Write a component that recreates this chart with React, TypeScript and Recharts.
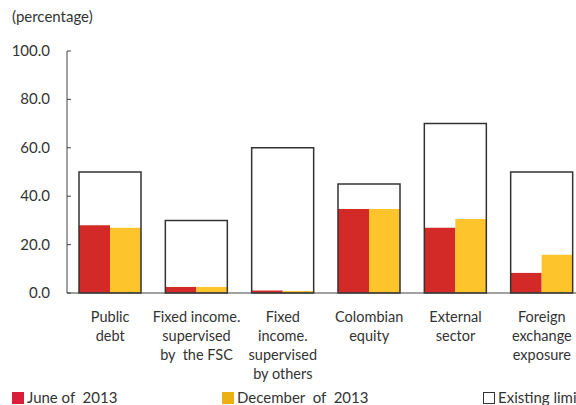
import { ComposedChart, Bar, XAxis, YAxis } from "recharts";

const categories = [
  "Public\ndebt",
  "Fixed income.\nsupervised\nby  the FSC",
  "Fixed\nincome.\nsupervised\nby others",
  "Colombian\nequity",
  "External\nsector",
  "Foreign\nexchange\nexposure",
];
const june2013 = [28.0, 2.5, 1.0, 34.7, 27.0, 8.3];
const december2013 = [27.0, 2.5, 0.8, 34.7, 30.6, 15.8];
const existingLimit = [50, 30, 60, 45, 70, 50];
const yTicks = [0, 20, 40, 60, 80, 100];

const data = categories.map((name, i) => ({
  name,
  june: june2013[i],
  december: december2013[i],
  limit: existingLimit[i],
}));

const FONT = "Lato, 'Open Sans', sans-serif";
const TEXT = "#333";

const YTick = ({ x, y, payload }: any) => (
  <g>
    <line x1={x} x2={x + 4} y1={y} y2={y} stroke="#444" />
    <text x={x - 17} y={y} dy={5} textAnchor="end" fontSize={15} fill={TEXT} fontFamily={FONT}>
      {Number(payload.value).toFixed(1)}
    </text>
  </g>
);

const XTick = ({ x, y, payload }: any) => {
  const lines = String(payload.value).split("\n");
  return (
    <text x={x} y={y + 29} textAnchor="middle" fontSize={14.5} fill={TEXT} fontFamily={FONT} style={{ whiteSpace: "pre" }}>
      {lines.map((l, i) => (
        <tspan key={i} x={x} dy={i === 0 ? 0 : 19}>
          {l}
        </tspan>
      ))}
    </text>
  );
};

const Swatch = ({ color, border }: { color: string; border?: string }) => (
  <span
    style={{
      display: "inline-block",
      width: 12,
      height: 12,
      background: color,
      border: border ? `1px solid ${border}` : "none",
      boxSizing: "border-box",
      marginRight: 3,
      verticalAlign: "-1px",
    }}
  />
);

export default function App() {
  return (
    <div
      style={{
        position: "fixed",
        left: 0,
        top: 0,
        width: 576,
        height: 405,
        overflow: "hidden",
        background: "#fff",
        fontFamily: FONT,
        color: TEXT,
      }}
    >
      <div style={{ position: "absolute", left: 12, top: 7, fontSize: 15 }}>(percentage)</div>
      <ComposedChart
        width={600}
        height={405}
        data={data}
        margin={{ top: 51, right: 15, bottom: 0, left: 0 }}
        barGap={0}
      >
        <XAxis
          xAxisId="main"
          dataKey="name"
          interval={0}
          tickLine={false}
          tickSize={0}
          tickMargin={0}
          axisLine={{ stroke: "#444" }}
          tick={<XTick />}
          height={112}
        />
        <XAxis xAxisId="limit" dataKey="name" orientation="top" height={0} hide />
        <YAxis
          domain={[0, 100]}
          ticks={yTicks}
          width={67}
          tickLine={false}
          tickSize={0}
          tickMargin={0}
          axisLine={{ stroke: "#444" }}
          tick={<YTick />}
        />
        <Bar xAxisId="main" dataKey="june" fill="#D42A27" barSize={31} isAnimationActive={false} />
        <Bar xAxisId="main" dataKey="december" fill="#FDC42B" barSize={31} isAnimationActive={false} />
        <Bar
          xAxisId="limit"
          dataKey="limit"
          fill="none"
          stroke="#333"
          strokeWidth={1.5}
          barSize={62}
          isAnimationActive={false}
        />
      </ComposedChart>
      <div style={{ position: "absolute", top: 388, left: 12, fontSize: 15, whiteSpace: "pre", lineHeight: "18px" }}>
        <Swatch color="#D81E3A" />June of  2013
      </div>
      <div style={{ position: "absolute", top: 388, left: 222, fontSize: 15, whiteSpace: "pre", lineHeight: "18px" }}>
        <Swatch color="#EBB012" />December  of  2013
      </div>
      <div style={{ position: "absolute", top: 388, left: 483, fontSize: 15, whiteSpace: "pre", lineHeight: "18px" }}>
        <Swatch color="#fff" border="#333" />Existing limit
      </div>
    </div>
  );
}
